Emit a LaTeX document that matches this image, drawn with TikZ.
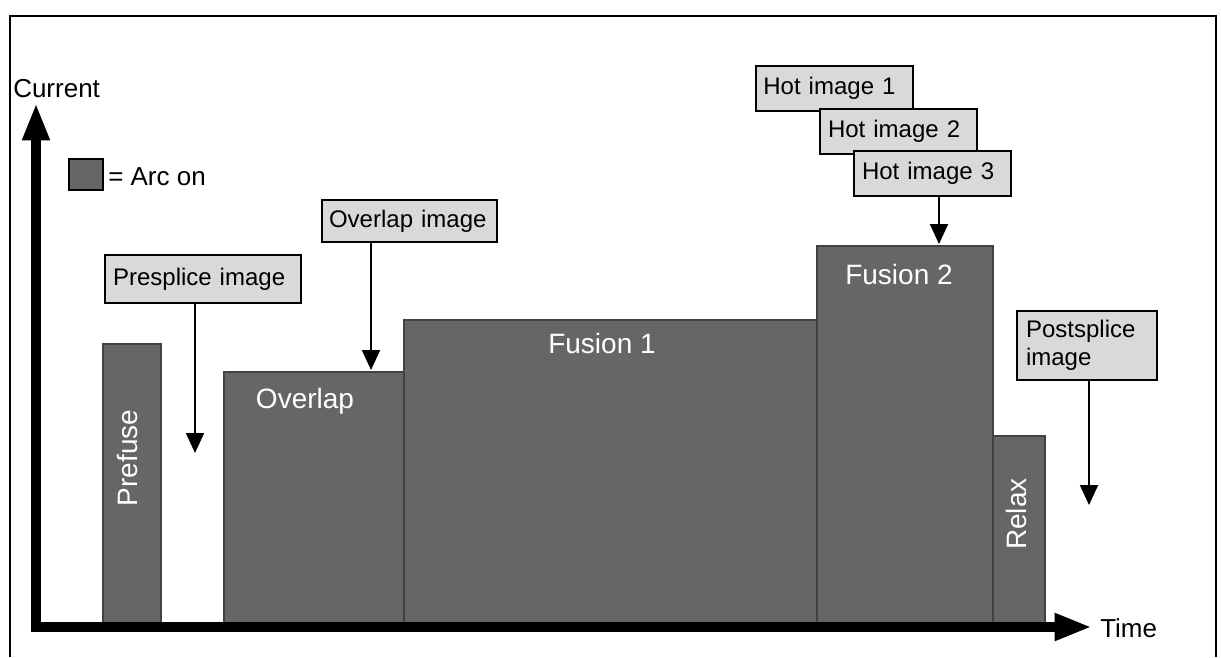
\documentclass[tikz,border=0pt]{standalone}
\usepackage{fontspec}
\setmainfont{Liberation Sans}
\usetikzlibrary{arrows.meta,fit,calc}
\definecolor{arcgray}{HTML}{666666}
\definecolor{arcedge}{HTML}{424242}
\definecolor{callgray}{HTML}{D9D9D9}
\begin{document}
\begin{tikzpicture}[x=0.75pt,y=-0.75pt,
  bar/.style={draw=arcedge, fill=arcgray, line width=1.3pt, inner sep=0pt},
  barlabel/.style={text=white, font=\fontsize{21}{25}\selectfont, inner sep=0pt},
  callout/.style={draw=black, fill=callgray, line width=1.6pt, anchor=north west, align=left,
    font=\fontsize{18}{21}\selectfont, inner ysep=0pt},
  pointer/.style={line width=1.5pt, -{Triangle[width=13.5pt,length=15pt]}},
  axis/.style={line width=7.5pt, {Triangle[width=19pt,length=28pt]}-{Triangle[width=19pt,length=28pt]}, line join=miter},
  plain/.style={font=\fontsize{19.5}{23}\selectfont, inner sep=0pt}]
\useasboundingbox (0,0) rectangle (1221,657);
% frame
\draw[line width=1.5pt] (10,657) -- (10,16) -- (1216,16) -- (1216,657);
% bars
\node[bar, fit={(103,344)(161,627)}] (prefuse) {};
\node[bar, fit={(224,372)(404,627)}] (overlap) {};
\node[bar, fit={(404,320)(817,627)}] (fusion1) {};
\node[bar, fit={(817,246)(993,627)}] (fusion2) {};
\node[bar, fit={(993,436)(1045,627)}] (relax) {};
\node[barlabel, rotate=90] (prefuselbl) at (128,458) {Prefuse};
\node[barlabel, anchor=base] (overlaplbl) at (305,408) {Overlap};
\node[barlabel, anchor=base] (fusion1lbl) at (602,353) {Fusion 1};
\node[barlabel, anchor=base] (fusion2lbl) at (899,284) {Fusion 2};
\node[barlabel, rotate=90] (relaxlbl) at (1016,514) {Relax};
% axes
\coordinate (ytip) at (36,103);
\coordinate (origin) at (36,627);
\coordinate (xtip) at (1092,627);
\draw[axis] (ytip) -- (origin) -- (xtip);
\node[plain, anchor=west] (ylabel) at (13,89) {Current};
\node[plain, anchor=west] (xlabel) at (1100,628) {Time};
% legend
\node[draw=black, fill=arcgray, line width=1.5pt, inner sep=0pt, fit={(69,159)(103,190)}] (legendbox) {};
\node[plain, anchor=west] (legendtxt) at (108,177) {= Arc on};
% callouts
\node[callout, minimum width=147pt, minimum height=36pt, inner xsep=6pt, text width=135pt] (presplice) at (104,254) {\mbox{Presplice image}};
\node[callout, minimum width=131.25pt, minimum height=31.5pt, inner xsep=5.25pt, text width=120.75pt] (overlapimg) at (321,199) {\mbox{Overlap image}};
\node[callout, minimum width=117.75pt, minimum height=33.75pt, inner xsep=5.5pt, text width=106.75pt] (hot1) at (755,65) {\mbox{Hot image 1}};
\node[callout, minimum width=117.75pt, minimum height=33.75pt, inner xsep=6pt, text width=105.75pt] (hot2) at (819,108) {\mbox{Hot image 2}};
\node[callout, minimum width=117.75pt, minimum height=33.75pt, inner xsep=6pt, text width=105.75pt] (hot3) at (853,150) {\mbox{Hot image 3}};
\node[callout, minimum width=105pt, minimum height=51.75pt, inner xsep=6.75pt, text width=91.5pt] (postsplice) at (1016,310) {Postsplice\\image};
% pointers
\coordinate (pretip) at (195,453);
\coordinate (ovtip) at (371,370);
\coordinate (hottip) at (939,244);
\coordinate (posttip) at (1089,505);
\draw[pointer] (presplice.south -| pretip) -- (pretip);
\draw[pointer] (overlapimg.south -| ovtip) -- (ovtip);
\draw[pointer] (hot3.south -| hottip) -- (hottip);
\draw[pointer] (postsplice.south -| posttip) -- (posttip);
\end{tikzpicture}
\end{document}
